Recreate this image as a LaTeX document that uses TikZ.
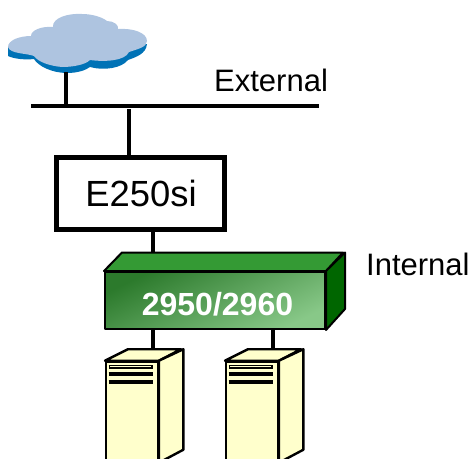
\documentclass[tikz,border=0pt]{standalone}
\usepackage{fontspec}
\setmainfont{Liberation Sans}
\usetikzlibrary{calc}
\definecolor{cloudtop}{RGB}{174,196,224}
\definecolor{cloudedge}{RGB}{0,114,182}
\definecolor{swtop}{RGB}{52,154,52}
\definecolor{swside}{RGB}{0,102,0}
\definecolor{swa}{RGB}{44,122,44}
\definecolor{swb}{RGB}{136,200,136}
\definecolor{srv}{RGB}{255,255,204}
\tikzset{
  x=1pt,y=-1pt,
  wire/.style={line width=4pt,black},
  label/.style={inner sep=0pt,anchor=base west,font=\fontsize{31}{31}\selectfont},
  swface/.style={draw=black,line width=2pt,line join=round},
  srvface/.style={draw=black,line width=2.4pt,fill=srv,line join=round},
  stripe/.style={line width=3.8pt,black},
  srvfront/.style={srvface,minimum width=51.5pt,minimum height=130pt,inner sep=0pt,anchor=north west},
}
\newcommand{\srvbody}[2]{%
  \draw[srvface] (#1.north west) -- ++(23,-11.5) -- ++(53,0) -- (#1.north east) -- cycle;
  \draw[srvface] (#1.north east) -- ++(24.5,-11.5) -- ++(0,100.5) -- ++(-24.5,13) -- cycle;
  \node[srvfront] at (#2) {};
  \draw[line width=4pt] ($(#1.north west)+(3.5,6)$) -- ++(44,0);
  \draw[line width=1pt,srv] ($(#1.north west)+(5,6)$) -- ++(41,0);
  \draw[stripe] ($(#1.north west)+(3.5,13.5)$) -- ++(44,0);
  \draw[stripe] ($(#1.north west)+(3.5,21)$) -- ++(44,0);
}
\begin{document}
\begin{tikzpicture}
\useasboundingbox (0,0) rectangle (473,458);
\clip (0,0) rectangle (473,458);
% cloud
\coordinate (cloudfoot) at (66,72);
\coordinate (busa) at (31,105.7);
\coordinate (busb) at (319,105.7);
\coordinate (busl) at (66,105.7);
\coordinate (busm) at (129,109);
\fill[cloudedge] (8,47) -- (8,56) .. controls (14,59) and (26,60) .. (34,59)
  .. controls (38,66) and (52,73) .. (67,73)
  .. controls (78,73) and (86,70) .. (90,67)
  .. controls (104,71) and (122,68) .. (128,60)
  .. controls (136,57) and (146,54) .. (147,44) -- cycle;
\fill[cloudtop] (8,47) .. controls (8,40) and (20,36) .. (31,36)
  .. controls (31,30) and (42,26) .. (53,27)
  .. controls (52,18) and (68,13) .. (82,14)
  .. controls (92,14) and (102,17) .. (107,21)
  .. controls (114,21) and (119,25) .. (118,29)
  .. controls (134,28) and (147,33) .. (147,41)
  .. controls (147,47) and (138,49) .. (129,52)
  .. controls (125,61) and (105,62) .. (90,60)
  .. controls (85,65) and (72,67) .. (62,67)
  .. controls (50,66) and (38,62) .. (34,56)
  .. controls (26,53) and (10,54) .. (8,47) -- cycle;
% bus
\draw[wire] (cloudfoot) -- (busl);
\draw[wire,line width=3.6pt] (busa) -- (busb);
% E250si
\node[draw=black,line width=5pt,fill=white,minimum width=167.5pt,minimum height=71.5pt,inner sep=0pt] (fw) at (140.5,193.3) {};
\node[inner sep=0pt,anchor=base,font=\fontsize{36.4}{36.4}\selectfont] (fwl) at (141,206.7) {E250si};
\draw[wire] (busm) -- (busm |- fw.north);
% switch
\node[swface,left color=swa,right color=swb,shading angle=26,minimum width=220pt,minimum height=57pt,inner sep=0pt] (sw) at (215,300.5) {};
\node[inner sep=0pt,text=white,font=\fontsize{32}{32}\selectfont\bfseries] (swl) at (217.5,304.5) {2950/2960};
\draw[wire] (fw.south -| 153,0) -- (153,254);
\draw[swface,fill=swtop] (sw.north west) -- ++(18,-18.5) -- ++(221,0) -- (sw.north east) -- cycle;
\draw[swface,fill=swside] (sw.north east) -- ++(19,-18.5) -- ++(0,56.5) -- (sw.south east) -- cycle;
% labels
\node[label] (ext) at (214,91.7) {External};
\node[label] (int) at (366,275) {Internal};
% servers
\coordinate (spa) at (105,360.7);
\coordinate (spb) at (225,360.7);
\node[srvfront] (sa) at (spa) {};
\node[srvfront] (sb) at (spb) {};
\draw[wire] (sw.south -| 153,0) -- (153,349);
\draw[wire] (sw.south -| 273,0) -- (273,349);
\srvbody{sa}{spa}
\srvbody{sb}{spb}
\end{tikzpicture}
\end{document}
